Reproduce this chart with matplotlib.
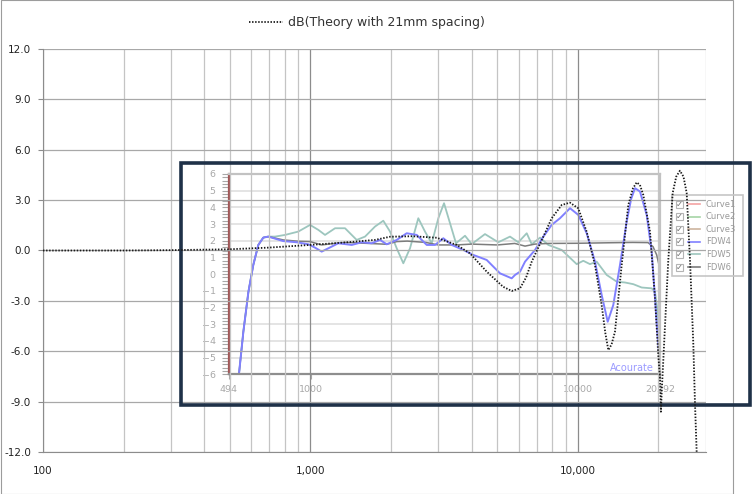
import numpy as np
import matplotlib
matplotlib.use('Agg')
import matplotlib.pyplot as plt
from matplotlib.patches import Rectangle
from matplotlib.lines import Line2D
from matplotlib.ticker import LogLocator, MultipleLocator, NullFormatter, FormatStrFormatter

# ---- data ----
theory_label = 'dB(Theory with 21mm spacing)'
theory_f = [100, 200, 300, 400, 491, 695, 995, 1400, 1742, 1983, 2400, 2964, 3522, 3947,
            4559, 5249, 5654, 6073, 6400, 6714, 7421, 7973, 8692, 9335, 10025, 10777,
            11575, 12262, 12650, 12985, 13350, 13750, 14570, 15420, 16050, 16580, 17050,
            17545, 18590, 19410, 19960, 20260, 20420, 20550, 21150, 21760, 22600, 23300,
            24050, 24800, 25490, 26230, 26980, 27380, 27780]
theory_db = [0.0, 0.0, 0.02, 0.05, 0.07, 0.17, 0.33, 0.5, 0.63, 0.82, 0.85, 0.76, 0.33, -0.17,
             -1.26, -2.16, -2.41, -2.25, -1.6, -0.67, 0.82, 1.92, 2.71, 2.85, 2.51, 1.12,
             -0.86, -3.25, -4.9, -5.93, -5.6, -4.84, -0.86, 2.71, 3.7, 4.06, 3.9,
             3.31, 1.12, -2.85, -6.22, -7.59, -9.6, -8.5, -4.5, -0.57, 3.43, 4.4,
             4.75, 4.4, 3.43, -0.57, -5.5, -9.1, -12.0]

# shared low-frequency rise of the measured curves (inset units)
rise_f = [540, 561, 586, 611, 638, 666, 695]
rise_v = [-6.0, -3.44, -1.05, 0.55, 1.75, 2.19, 2.25]

fdw4_f = rise_f + [791, 888, 981, 1039, 1101, 1166, 1270, 1426, 1554, 1693, 1819, 1927, 2100,
                   2289, 2495, 2719, 2921, 3137, 3372, 3726, 4061, 4557, 5109, 5651, 5815,
                   6072, 6339, 6909, 7421, 7973, 8565, 9335, 10025, 10777, 11575, 12262,
                   12914, 13549, 14355, 15207, 15800, 16333, 17052, 18063, 18859, 19406,
                   19860, 20150]
fdw4_v = rise_v + [1.98, 1.91, 1.79, 1.59, 1.35, 1.55, 1.85, 1.75, 1.91, 1.85, 2.05, 1.79, 2.05,
                   2.45, 2.35, 1.75, 1.75, 2.15, 1.75, 1.45, 1.15, 0.85, 0.05, -0.25, -0.05,
                   0.15, 0.75, 1.45, 2.25, 2.95, 3.35, 3.95, 3.55, 2.45, 0.75, -1.25,
                   -2.85, -1.85, 0.55, 3.15, 4.5, 5.15, 4.95, 3.55, 1.35, -1.45,
                   -3.8, -5.0]

fdw5_f = rise_f + [737, 803, 900, 996, 1070, 1133, 1235, 1346, 1488, 1599, 1742, 1871, 1983,
                   2100, 2223, 2355, 2529, 2679, 2839, 3005, 3156, 3323, 3499, 3781, 4005,
                   4490, 5035, 5569, 5983, 6432, 6715, 7213, 7745, 8692, 9888, 10466, 11088,
                   11745, 12805, 13955, 14988, 16094, 17302, 18859, 19406, 19860, 20085]
fdw5_v = rise_v + [2.25, 2.35, 2.55, 2.95, 2.65, 2.35, 2.75, 2.75, 2.05, 2.25, 2.85, 3.2, 2.55,
                   1.55, 0.65, 1.55, 3.35, 2.55, 1.85, 3.35, 4.25, 3.05, 1.85, 2.3, 1.8,
                   2.4, 1.91, 2.25, 1.91, 2.45, 1.79, 2.19, 1.75, 1.45, 0.6, 0.8, 0.6,
                   0.75, -0.05, -0.45, -0.5, -0.6, -0.8, -0.85, -1.05, -2.25, -3.45]

fdw6_f = rise_f + [791, 900, 996, 1101, 1166, 1346, 1600, 1927, 2100, 2300, 2700, 3000, 3500,
                   4000, 5000, 5800, 6340, 6900, 7750, 10000, 13000, 16000, 18268, 19073,
                   19690, 20085]
fdw6_v = rise_v + [2.05, 1.97, 1.95, 1.75, 1.8, 1.9, 1.85, 1.79, 1.95, 1.98, 1.9, 1.75, 1.75,
                   1.8, 1.75, 1.84, 1.68, 1.8, 1.84, 1.85, 1.88, 1.9, 1.89, 1.65,
                   1.15, 0.55]

x_ticks = [100, 1000, 10000]
x_ticklabels = ['100', '1,000', '10,000']
ins_xticks = [494, 1000, 10000, 20292]
ins_xticklabels = ['494', '1000', '10000', '20292']
legend_names = ['Curve1', 'Curve2', 'Curve3', 'FDW4', 'FDW5', 'FDW6']
legend_colors = ['#f4a3a3', '#a6d4a6', '#cdb49e', '#8080ff', '#9dc6be', '#7c7c7c']

# ---- layout helpers (pixels -> figure fraction) ----
W, H = 752, 494


def box(x0, y0, x1, y1):
    return [x0 / W, 1 - y1 / H, (x1 - x0) / W, (y1 - y0) / H]


def P(x, y):
    return (x / W, 1 - y / H)


plt.rcParams['font.family'] = ['DejaVu Sans']
fig = plt.figure(figsize=(W / 100, H / 100), dpi=100)

# chart area border
fig.add_artist(Rectangle(P(0.5, 493.5), 732.5 / W, 493 / H, transform=fig.transFigure,
                         fill=False, ec='#9c9c9c', lw=0.8, zorder=0))

# ---- inset (the pasted Acourate plot) ----
ins = fig.add_axes(box(228.6, 174, 660.2, 374.3), zorder=1)
ins.set_facecolor('none')
ins.set_xscale('log')
ins.set_xlim(494, 20292)
ins.set_ylim(-6, 6)
ins.set_xticks(ins_xticks)
ins.set_xticklabels(ins_xticklabels)
ins.xaxis.set_minor_locator(LogLocator(base=10, subs=np.arange(2, 10)))
ins.xaxis.set_minor_formatter(NullFormatter())
ins.set_yticks(range(-6, 7))
ins.yaxis.set_minor_locator(MultipleLocator(0.2))
ins.grid(axis='y', which='major', color='#e4e4e4', lw=1.4)
ins.set_axisbelow(True)
ins.tick_params(axis='both', which='both', colors='#a8a8a8', labelsize=6.8)
ins.tick_params(axis='y', which='both', length=5, width=0.8, pad=4.3)
ins.tick_params(axis='x', which='both', length=3.6, width=0.8, pad=4)
ins.spines['left'].set_color('#a05656')
ins.spines['bottom'].set_color('#8e8e8e')
ins.spines['top'].set_color('#c2c2c2')
ins.spines['right'].set_color('#c2c2c2')
for s in ins.spines.values():
    s.set_linewidth(1.6)

ins.plot(fdw5_f, fdw5_v, color='#9dc6be', lw=1.3)
ins.plot(fdw6_f, fdw6_v, color='#7c7c7c', lw=1.1)
ins.plot(fdw4_f, fdw4_v, color='#8080ff', lw=1.4)
ins.text(0.986, 0.033, 'Acourate', transform=ins.transAxes, ha='right', va='center',
         color='#9b9bff', fontsize=7)

# inset legend with check boxes
fig.add_artist(Rectangle(P(671.7, 276), (743.3 - 671.7) / W, (276 - 195) / H,
                         transform=fig.transFigure, fill=False, ec='#c6c6c6', lw=1.2, zorder=1.5))
for i, (name, c) in enumerate(zip(legend_names, legend_colors)):
    y = 204 + i * 12.6
    fig.add_artist(Rectangle(P(676, y + 3.5), 7 / W, 7 / H, transform=fig.transFigure,
                             fill=False, ec='#b4b4b4', lw=0.8, zorder=1.5))
    fig.text(*P(679.5, y), '\u2713', fontsize=6, color='#707070', ha='center', va='center')
    fig.add_artist(Line2D([688 / W, 700 / W], [1 - y / H] * 2, transform=fig.transFigure,
                          color=c, lw=1.2, zorder=1.5))
    fig.text(*P(706, y), name, fontsize=6, color='#9a9a9a', va='center')

# ---- outer Excel-style chart ----
ax = fig.add_axes(box(43, 49, 705.6, 452), zorder=2)
ax.set_facecolor('none')
ax.set_xscale('log')
ax.plot(theory_f, theory_db, color='#1a1a1a', ls=(0, (0.8, 0.9)), lw=1.3, zorder=3)
ax.set_xlim(100, 30000)
ax.set_ylim(-12, 12)
ax.set_yticks(np.arange(-12, 13, 3))
ax.yaxis.set_major_formatter(FormatStrFormatter('%.1f'))
ax.set_xticks(x_ticks)
ax.set_xticklabels(x_ticklabels)
ax.xaxis.set_minor_locator(LogLocator(base=10, subs=np.arange(2, 10)))
ax.xaxis.set_minor_formatter(NullFormatter())
ax.grid(axis='x', which='major', color='#8c8c8c', lw=0.9)
ax.grid(axis='x', which='minor', color='#c4c4c4', lw=0.9)
ax.grid(axis='y', which='major', color='#a8a8a8', lw=0.9)
ax.set_axisbelow(True)
ax.tick_params(axis='x', which='both', length=0, pad=10, labelsize=7.5, labelcolor='#222222')
ax.tick_params(axis='y', length=3.6, width=0.8, color='#8c8c8c', pad=5, labelsize=7.5,
               labelcolor='#222222')
ax.spines['top'].set_visible(False)
ax.spines['right'].set_visible(False)
ax.spines['left'].set_color('#8c8c8c')
ax.spines['bottom'].set_color('#8c8c8c')

# dark frame round the pasted picture
ax.add_patch(Rectangle(P(180.5, 404.5), (749.5 - 180.5) / W, (404.5 - 163.5) / H,
                       transform=fig.transFigure, fill=False, ec='#1f3148', lw=2.6,
                       clip_on=False, zorder=1.6))

handle = Line2D([], [], color='#1a1a1a', ls=(0, (0.8, 0.9)), lw=1.3)
fig.legend([handle], [theory_label], loc='center', bbox_to_anchor=P(367, 22.7), frameon=False,
           fontsize=9, handlelength=2.7, handletextpad=0.4, labelcolor='#333333')

fig.savefig('out.png', dpi=100)
